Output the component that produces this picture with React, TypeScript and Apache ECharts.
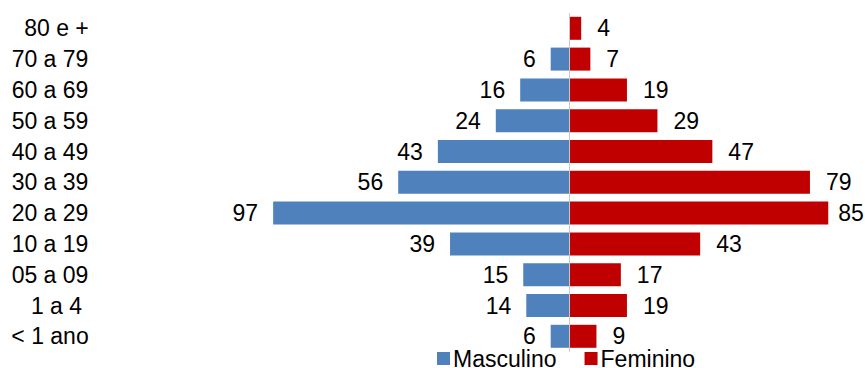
import React, { useEffect, useRef } from "react";
import * as echarts from "echarts";

// Age groups, listed bottom to top
const ageGroups = [
  "< 1 ano",
  "1 a 4",
  "05 a 09",
  "10 a 19",
  "20 a 29",
  "30 a 39",
  "40 a 49",
  "50 a 59",
  "60 a 69",
  "70 a 79",
  "80 e +",
];

// Short labels that sit slightly indented in the label column
const indentedGroups = ["1 a 4", "80 e +"];

const masculino: (number | null)[] = [6, 14, 15, 39, 97, 56, 43, 24, 16, 6, null];
const feminino: (number | null)[] = [9, 19, 17, 43, 85, 79, 47, 29, 19, 7, 4];

const FONT = "'Liberation Sans', Arial, sans-serif";
const FONT_SIZE = 23;
const BLUE = "#4F81BD";
const RED = "#C00000";
const X_MAX = 95;

export default function App() {
  const ref = useRef<HTMLDivElement>(null);

  useEffect(() => {
    document.body.style.margin = "0";
    if (!ref.current) return;
    const chart = echarts.init(ref.current, undefined, { renderer: "svg" });

    const labelStyle = {
      show: true,
      fontSize: FONT_SIZE,
      fontFamily: FONT,
      color: "#000",
      formatter: (p: any) => String(Math.abs(p.value)),
    };

    chart.setOption({
      animation: false,
      textStyle: { fontFamily: FONT },
      grid: {
        left: 203,
        right: 6.25,
        top: 12.9,
        bottom: 16.3,
        containLabel: false,
        outerBoundsMode: "none",
      },
      legend: {
        data: ["Masculino", "Feminino"],
        left: 437,
        top: 347,
        padding: 0,
        icon: "rect",
        itemWidth: 13,
        itemHeight: 13,
        itemGap: 28,
        textStyle: {
          fontSize: FONT_SIZE,
          fontFamily: FONT,
          color: "#000",
          padding: [0, 0, 0, -2],
        },
      },
      xAxis: {
        type: "value",
        min: -120,
        max: X_MAX,
        show: false,
      },
      yAxis: {
        type: "category",
        data: ageGroups,
        axisLine: { show: false, onZero: false },
        axisTick: { show: false },
        axisLabel: {
          margin: 153,
          align: "center",
          fontSize: FONT_SIZE,
          fontFamily: FONT,
          color: "#000",
          formatter: (v: string) => (indentedGroups.includes(v) ? `{ind|${v}}` : v),
          rich: {
            ind: {
              fontSize: FONT_SIZE,
              fontFamily: FONT,
              color: "#000",
              padding: [0, 0, 0, 13],
            },
          },
        },
      },
      series: [
        {
          name: "Masculino",
          type: "bar",
          stack: "pyramid",
          barWidth: 23,
          itemStyle: { color: BLUE },
          label: { ...labelStyle, position: "left", distance: 15 },
          data: masculino.map((v) => (v == null ? "-" : -v)),
          // vertical divider at zero
          markLine: {
            silent: true,
            symbol: "none",
            label: { show: false },
            lineStyle: { color: "#c8c8c8", width: 1, type: "solid" },
            data: [{ xAxis: 0 }],
          },
        },
        {
          name: "Feminino",
          type: "bar",
          stack: "pyramid",
          barWidth: 23,
          itemStyle: { color: RED },
          label: { ...labelStyle, position: "right", distance: 16 },
          // labels near the right edge sit closer to their bar
          data: feminino.map((v) =>
            v == null
              ? "-"
              : X_MAX - v < 12
              ? { value: v, label: { distance: 10 } }
              : v
          ),
        },
      ],
    });

    return () => chart.dispose();
  }, []);

  return <div ref={ref} style={{ width: 865, height: 368 }} />;
}
